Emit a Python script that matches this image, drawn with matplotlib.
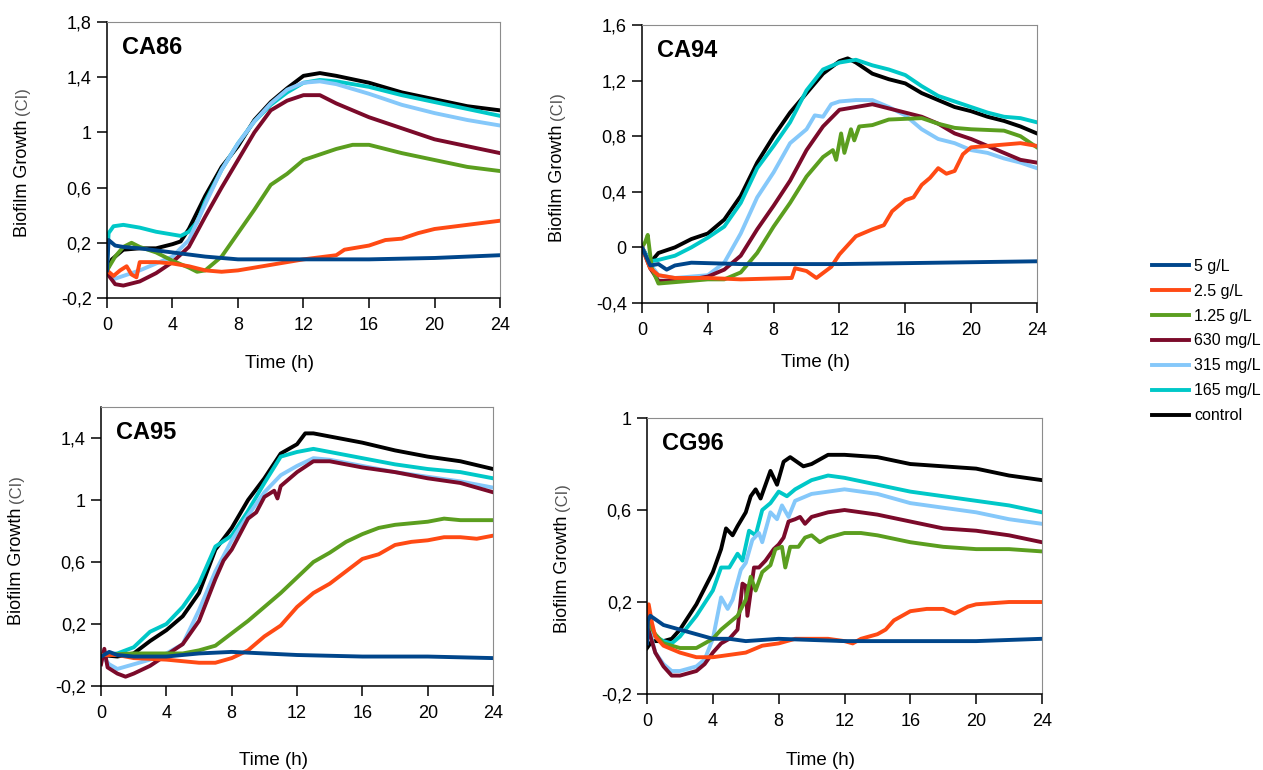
import matplotlib.pyplot as plt
from matplotlib.ticker import FuncFormatter

plt.rcParams['font.family'] = ['Liberation Sans', 'DejaVu Sans']

series_labels = ["5 g/L", "2.5 g/L", "1.25 g/L", "630 mg/L", "315 mg/L", "165 mg/L", "control"]
series_colors = ["#00468b", "#ff4a14", "#5b9e1f", "#7b0a2a", "#85c8fa", "#00c8c8", "#000000"]
x_ticks = [0, 4, 8, 12, 16, 20, 24]

# ---- CA86 ----
ca86_t_5g = [0, 0.1, 0.5, 1, 2, 4, 6, 8, 12, 16, 20, 24]
ca86_y_5g = [0.0, 0.22, 0.18, 0.17, 0.16, 0.13, 0.1, 0.08, 0.08, 0.08, 0.09, 0.11]
ca86_t_2g5 = [0, 0.4, 0.8, 1.2, 1.5, 1.8, 2, 3, 4, 5, 6, 7, 8, 9, 10, 12, 14, 14.5, 16, 17, 18, 19, 20, 22, 24]
ca86_y_2g5 = [0, -0.04, 0.0, 0.03, -0.03, -0.05, 0.06, 0.06, 0.05, 0.03, 0.0, -0.01, 0.0, 0.02, 0.04, 0.08, 0.11, 0.15, 0.18, 0.22, 0.23, 0.27, 0.3, 0.33, 0.36]
ca86_t_1g25 = [0, 0.5, 1, 1.5, 2, 3, 4, 5, 5.5, 6, 7, 8, 9, 10, 11, 12, 13, 14, 15, 16, 17, 18, 20, 22, 24]
ca86_y_1g25 = [0, 0.1, 0.17, 0.2, 0.17, 0.13, 0.07, 0.02, -0.01, 0.0, 0.1, 0.27, 0.44, 0.62, 0.7, 0.8, 0.84, 0.88, 0.91, 0.91, 0.88, 0.85, 0.8, 0.75, 0.72]
ca86_t_630 = [0, 0.5, 1, 2, 3, 4, 5, 6, 7, 8, 9, 10, 11, 12, 13, 14, 16, 18, 20, 22, 24]
ca86_y_630 = [-0.02, -0.1, -0.11, -0.08, -0.02, 0.06, 0.17, 0.39, 0.6, 0.8, 1.0, 1.16, 1.23, 1.27, 1.27, 1.21, 1.11, 1.03, 0.95, 0.9, 0.85]
ca86_t_315 = [0, 0.5, 1, 2, 3, 4, 5, 6, 7, 8, 9, 10, 11, 12, 13, 14, 16, 18, 20, 22, 24]
ca86_y_315 = [0, -0.06, -0.04, 0.0, 0.05, 0.1, 0.22, 0.48, 0.73, 0.92, 1.08, 1.21, 1.31, 1.36, 1.37, 1.35, 1.28, 1.2, 1.14, 1.09, 1.05]
ca86_t_165 = [0, 0.1, 0.4, 1, 2, 3, 4, 4.5, 5, 5.5, 6, 7, 8, 9, 10, 11, 12, 13, 14, 16, 18, 20, 22, 24]
ca86_y_165 = [0.05, 0.27, 0.32, 0.33, 0.31, 0.28, 0.26, 0.25, 0.28, 0.35, 0.5, 0.73, 0.92, 1.08, 1.2, 1.29, 1.36, 1.38, 1.37, 1.33, 1.27, 1.22, 1.17, 1.12]
ca86_t_ctrl = [0, 0.3, 1, 2, 3, 4, 4.5, 5, 6, 7, 8, 9, 10, 11, 12, 13, 14, 16, 18, 20, 22, 24]
ca86_y_ctrl = [0, 0.08, 0.15, 0.16, 0.16, 0.19, 0.21, 0.3, 0.54, 0.75, 0.9, 1.09, 1.22, 1.32, 1.41, 1.43, 1.41, 1.36, 1.29, 1.24, 1.19, 1.16]

# ---- CA94 ----
ca94_t_5g = [0, 0.5, 1, 1.5, 2, 3, 6, 12, 18, 24]
ca94_y_5g = [0, -0.13, -0.12, -0.16, -0.13, -0.11, -0.12, -0.12, -0.11, -0.1]
ca94_t_2g5 = [0, 0.5, 1, 2, 4, 6, 9.1, 9.3, 10, 10.6, 11.5, 12, 13, 14, 14.7, 15.2, 16, 16.5, 17, 17.5, 18, 18.5, 19, 19.5, 20, 21, 22, 23, 24]
ca94_y_2g5 = [0, -0.15, -0.2, -0.22, -0.22, -0.23, -0.22, -0.15, -0.17, -0.22, -0.14, -0.05, 0.08, 0.13, 0.16, 0.26, 0.34, 0.36, 0.45, 0.5, 0.57, 0.53, 0.55, 0.67, 0.72, 0.73, 0.74, 0.75, 0.73]
ca94_t_1g25 = [0, 0.2, 0.35, 0.6, 1, 2, 4, 5, 6, 7, 8, 9, 10, 11, 11.6, 11.8, 12.1, 12.3, 12.7, 12.9, 13.2, 14, 15, 17, 18, 19, 20, 22, 23, 24]
ca94_y_1g25 = [0, 0.04, 0.09, -0.15, -0.26, -0.25, -0.23, -0.23, -0.18, -0.04, 0.15, 0.32, 0.51, 0.65, 0.7, 0.63, 0.82, 0.68, 0.85, 0.77, 0.87, 0.88, 0.92, 0.93, 0.89, 0.86, 0.85, 0.84, 0.8, 0.72]
ca94_t_630 = [0, 0.5, 1, 2, 3, 4, 5, 6, 7, 8, 9, 10, 11, 12, 13, 14, 15, 16, 17, 18, 19, 20, 21, 22, 23, 24]
ca94_y_630 = [0, -0.15, -0.24, -0.24, -0.23, -0.21, -0.16, -0.06, 0.13, 0.3, 0.48, 0.7, 0.87, 0.99, 1.01, 1.03, 1.0, 0.97, 0.94, 0.89, 0.82, 0.78, 0.73, 0.68, 0.63, 0.61]
ca94_t_315 = [0, 0.5, 1, 2, 3, 4, 5, 6, 7, 8, 9, 10, 10.5, 11, 11.5, 12, 13, 14, 15, 16, 17, 18, 19, 20, 21, 22, 23, 24]
ca94_y_315 = [0, -0.12, -0.2, -0.22, -0.21, -0.2, -0.11, 0.1, 0.36, 0.54, 0.75, 0.85, 0.95, 0.94, 1.03, 1.05, 1.06, 1.06, 1.01, 0.95, 0.85, 0.78, 0.75, 0.7, 0.68, 0.64, 0.61, 0.57]
ca94_t_165 = [0, 0.5, 1, 2, 3, 4, 5, 6, 7, 8, 9, 10, 11, 12, 13, 14, 15, 16, 17, 18, 19, 20, 21, 22, 23, 24]
ca94_y_165 = [0, -0.1, -0.09, -0.06, 0.0, 0.07, 0.15, 0.32, 0.57, 0.73, 0.9, 1.13, 1.28, 1.33, 1.35, 1.31, 1.28, 1.24, 1.16, 1.09, 1.05, 1.01, 0.97, 0.94, 0.93, 0.9]
ca94_t_ctrl = [0, 0.5, 1, 2, 3, 4, 5, 6, 7, 8, 9, 10, 11, 12, 12.5, 13, 14, 15, 16, 17, 18, 19, 20, 21, 22, 23, 24]
ca94_y_ctrl = [0, -0.11, -0.04, 0.0, 0.06, 0.1, 0.2, 0.37, 0.61, 0.8, 0.97, 1.11, 1.25, 1.34, 1.36, 1.33, 1.25, 1.21, 1.18, 1.11, 1.06, 1.01, 0.98, 0.94, 0.91, 0.87, 0.82]

# ---- CA95 ----
ca95_t_5g = [0, 0.5, 1, 2, 4, 6, 8, 10, 12, 16, 20, 24]
ca95_y_5g = [-0.01, 0.02, 0.0, -0.01, -0.01, 0.01, 0.02, 0.01, 0.0, -0.01, -0.01, -0.02]
ca95_t_2g5 = [0, 1, 2, 4, 5, 6, 7, 8, 9, 10, 11, 12, 13, 14, 15, 16, 17, 18, 19, 20, 21, 22, 23, 24]
ca95_y_2g5 = [0, 0.0, -0.02, -0.03, -0.04, -0.05, -0.05, -0.02, 0.03, 0.12, 0.19, 0.31, 0.4, 0.46, 0.54, 0.62, 0.65, 0.71, 0.73, 0.74, 0.76, 0.76, 0.75, 0.77]
ca95_t_1g25 = [0, 2, 4, 5, 6, 7, 8, 9, 10, 11, 12, 13, 14, 15, 16, 17, 18, 19, 20, 21, 22, 24]
ca95_y_1g25 = [0, 0.01, 0.01, 0.01, 0.03, 0.06, 0.14, 0.22, 0.31, 0.4, 0.5, 0.6, 0.66, 0.73, 0.78, 0.82, 0.84, 0.85, 0.86, 0.88, 0.87, 0.87]
ca95_t_630 = [0, 0.2, 0.4, 1, 1.5, 2, 3, 4, 5, 6, 7, 7.5, 8, 8.5, 9, 9.5, 10, 10.6, 10.8, 11, 12, 13, 14, 16, 18, 20, 22, 24]
ca95_y_630 = [-0.06, 0.04, -0.08, -0.12, -0.14, -0.12, -0.07, 0.0, 0.07, 0.22, 0.49, 0.61, 0.68, 0.78, 0.88, 0.92, 1.02, 1.06, 1.01, 1.09, 1.18, 1.25, 1.25, 1.21, 1.18, 1.14, 1.11, 1.05]
ca95_t_315 = [0, 0.5, 1, 2, 3, 4, 5, 6, 7, 8, 9, 10, 11, 12, 13, 14, 16, 18, 20, 22, 24]
ca95_y_315 = [0, -0.06, -0.09, -0.06, -0.03, 0.01, 0.07, 0.29, 0.54, 0.74, 0.9, 1.05, 1.16, 1.22, 1.27, 1.26, 1.22, 1.18, 1.15, 1.12, 1.08]
ca95_t_165 = [0, 1, 2, 3, 4, 5, 6, 7, 8, 9, 10, 11, 12, 13, 14, 16, 18, 20, 22, 24]
ca95_y_165 = [0, 0.01, 0.05, 0.15, 0.2, 0.31, 0.46, 0.7, 0.77, 0.93, 1.11, 1.28, 1.31, 1.33, 1.31, 1.27, 1.23, 1.2, 1.18, 1.14]
ca95_t_ctrl = [0, 1, 2, 3, 4, 5, 6, 7, 8, 9, 10, 11, 12, 12.5, 13, 14, 16, 18, 20, 22, 24]
ca95_y_ctrl = [0, -0.01, 0.01, 0.09, 0.16, 0.25, 0.4, 0.68, 0.82, 1.0, 1.14, 1.3, 1.36, 1.43, 1.43, 1.41, 1.37, 1.32, 1.28, 1.25, 1.2]

# ---- CG96 ----
cg96_t_5g = [0, 0.05, 0.2, 1, 2, 3, 4, 5, 6, 8, 12, 16, 20, 24]
cg96_y_5g = [0.02, 0.12, 0.14, 0.1, 0.08, 0.06, 0.04, 0.04, 0.03, 0.04, 0.03, 0.03, 0.03, 0.04]
cg96_t_2g5 = [0, 0.1, 0.3, 0.5, 1, 2, 3, 4, 5, 6, 7, 8, 9, 10, 11, 12, 12.5, 13, 14, 14.5, 15, 16, 17, 18, 18.7, 19.5, 20, 22, 24]
cg96_y_2g5 = [0.05, 0.19, 0.11, 0.05, 0.01, -0.02, -0.04, -0.04, -0.03, -0.02, 0.01, 0.02, 0.04, 0.04, 0.04, 0.03, 0.02, 0.04, 0.06, 0.08, 0.12, 0.16, 0.17, 0.17, 0.15, 0.18, 0.19, 0.2, 0.2]
cg96_t_1g25 = [0, 0.5, 1, 2, 3, 4, 4.5, 5, 5.5, 6, 6.3, 6.6, 7, 7.5, 7.8, 8.2, 8.4, 8.7, 9.2, 9.6, 10, 10.5, 11, 12, 13, 14, 16, 18, 20, 22, 24]
cg96_y_1g25 = [0.12, 0.06, 0.02, 0.0, 0.0, 0.04, 0.08, 0.11, 0.14, 0.21, 0.31, 0.25, 0.33, 0.36, 0.43, 0.44, 0.35, 0.44, 0.44, 0.48, 0.49, 0.46, 0.48, 0.5, 0.5, 0.49, 0.46, 0.44, 0.43, 0.43, 0.42]
cg96_t_630 = [0, 0.5, 1, 1.5, 2, 3, 3.5, 4, 4.5, 5, 5.5, 5.8, 6, 6.1, 6.5, 6.8, 7.2, 7.7, 8, 8.3, 8.6, 9, 9.3, 9.6, 10, 11, 12, 13, 14, 16, 18, 20, 22, 24]
cg96_y_630 = [0.1, -0.02, -0.08, -0.12, -0.12, -0.1, -0.07, -0.02, 0.02, 0.04, 0.08, 0.28, 0.27, 0.14, 0.35, 0.35, 0.38, 0.43, 0.45, 0.48, 0.55, 0.56, 0.57, 0.54, 0.57, 0.59, 0.6, 0.59, 0.58, 0.55, 0.52, 0.51, 0.49, 0.46]
cg96_t_315 = [0, 0.5, 1, 1.5, 2, 3, 3.5, 4, 4.5, 4.9, 5.2, 5.7, 6, 6.4, 6.8, 7, 7.5, 7.9, 8.2, 8.6, 9, 10, 11, 12, 13, 14, 16, 18, 20, 22, 24]
cg96_y_315 = [0.12, -0.02, -0.07, -0.1, -0.1, -0.08, -0.05, 0.04, 0.22, 0.17, 0.21, 0.34, 0.37, 0.47, 0.5, 0.46, 0.59, 0.56, 0.62, 0.57, 0.64, 0.67, 0.68, 0.69, 0.68, 0.67, 0.63, 0.61, 0.59, 0.56, 0.54]
cg96_t_165 = [0, 0.5, 1, 1.5, 2, 3, 4, 4.5, 5, 5.5, 5.8, 6.2, 6.6, 7, 7.5, 8, 8.5, 9, 10, 11, 12, 14, 16, 18, 20, 22, 24]
cg96_y_165 = [0.12, 0.05, 0.03, 0.02, 0.05, 0.14, 0.25, 0.35, 0.35, 0.41, 0.38, 0.51, 0.49, 0.6, 0.63, 0.68, 0.66, 0.69, 0.73, 0.75, 0.74, 0.71, 0.68, 0.66, 0.64, 0.62, 0.59]
cg96_t_ctrl = [0, 0.3, 1, 1.5, 2, 3, 4, 4.5, 4.8, 5.2, 5.5, 6, 6.3, 6.6, 6.9, 7.5, 7.9, 8.3, 8.7, 9.5, 10, 11, 12, 14, 16, 18, 20, 22, 24]
cg96_y_ctrl = [0.0, 0.03, 0.03, 0.04, 0.08, 0.19, 0.33, 0.43, 0.52, 0.49, 0.53, 0.59, 0.66, 0.69, 0.65, 0.77, 0.71, 0.81, 0.83, 0.79, 0.8, 0.84, 0.84, 0.83, 0.8, 0.79, 0.78, 0.75, 0.73]

panel_names = ["CA86", "CA94", "CA95", "CG96"]
panel_yticks = [[-0.2, 0.2, 0.6, 1.0, 1.4, 1.8],
                [-0.4, 0, 0.4, 0.8, 1.2, 1.6],
                [-0.2, 0.2, 0.6, 1.0, 1.4],
                [-0.2, 0.2, 0.6, 1.0]]
panel_ylim = [(-0.2, 1.8), (-0.4, 1.6), (-0.2, 1.6), (-0.2, 1.0)]

panel_data = [
    [(ca86_t_5g, ca86_y_5g), (ca86_t_2g5, ca86_y_2g5), (ca86_t_1g25, ca86_y_1g25), (ca86_t_630, ca86_y_630),
     (ca86_t_315, ca86_y_315), (ca86_t_165, ca86_y_165), (ca86_t_ctrl, ca86_y_ctrl)],
    [(ca94_t_5g, ca94_y_5g), (ca94_t_2g5, ca94_y_2g5), (ca94_t_1g25, ca94_y_1g25), (ca94_t_630, ca94_y_630),
     (ca94_t_315, ca94_y_315), (ca94_t_165, ca94_y_165), (ca94_t_ctrl, ca94_y_ctrl)],
    [(ca95_t_5g, ca95_y_5g), (ca95_t_2g5, ca95_y_2g5), (ca95_t_1g25, ca95_y_1g25), (ca95_t_630, ca95_y_630),
     (ca95_t_315, ca95_y_315), (ca95_t_165, ca95_y_165), (ca95_t_ctrl, ca95_y_ctrl)],
    [(cg96_t_5g, cg96_y_5g), (cg96_t_2g5, cg96_y_2g5), (cg96_t_1g25, cg96_y_1g25), (cg96_t_630, cg96_y_630),
     (cg96_t_315, cg96_y_315), (cg96_t_165, cg96_y_165), (cg96_t_ctrl, cg96_y_ctrl)],
]

# axes boxes in figure fractions (left, bottom, width, height)
boxes = [(0.0847, 0.613, 0.3112, 0.3584),
         (0.5083, 0.6065, 0.3127, 0.361),
         (0.0800, 0.1091, 0.3104, 0.3623),
         (0.5123, 0.0987, 0.3127, 0.3584)]
xlabel_y = [-0.205, -0.185, -0.235, -0.21]


def comma(v, pos):
    v = round(v, 2)
    if v == 0:
        return "0"
    return f"{v:g}".replace('.', ',')


fig = plt.figure(figsize=(12.63, 7.70), dpi=100)
lines = []
for i in range(4):
    ax = fig.add_axes(boxes[i])
    # draw control first so the low-dose lines sit on top
    for k in reversed(range(7)):
        t, y = panel_data[i][k]
        ln, = ax.plot(t, y, color=series_colors[k], lw=2.8, label=series_labels[k],
                      solid_joinstyle='round')
        if i == 0:
            lines.append(ln)
    ax.set_xlim(0, 24)
    ax.set_ylim(*panel_ylim[i])
    ax.set_xticks(x_ticks)
    ax.set_yticks(panel_yticks[i])
    ax.yaxis.set_major_formatter(FuncFormatter(comma))
    for s in ['top', 'right']:
        ax.spines[s].set_color('#8c8c8c')
        ax.spines[s].set_linewidth(0.8)
    for s in ['left', 'bottom']:
        ax.spines[s].set_linewidth(1.1)
    ax.tick_params(direction='out', length=7, width=1.1, labelsize=13)
    ax.tick_params(axis='x', pad=7)
    ax.tick_params(axis='y', pad=4)

    ax.annotate(panel_names[i], xy=(0, 1), xycoords='axes fraction', xytext=(10.5, -18),
                textcoords='offset points', fontsize=17, fontweight='bold', va='center')

    ax.set_xlabel('Time (h)', fontsize=13.5)
    ax.xaxis.set_label_coords(0.44, xlabel_y[i])

    lab = ax.annotate('Biofilm Growth', xy=(0, 0), xycoords='axes fraction', xytext=(-61, 44),
                      textcoords='offset points', rotation=90, ha='center', va='bottom', fontsize=13)
    ax.annotate('(CI)', xy=(0.5, 1), xycoords=lab, xytext=(0, 3), textcoords='offset points',
                rotation=90, ha='center', va='bottom', fontsize=12, color='#555555')

fig.legend(lines[::-1], series_labels, loc='upper left', bbox_to_anchor=(0.912, 0.664),
           frameon=False, fontsize=11.5, handlelength=2.3, handletextpad=0.35,
           labelspacing=0.62, borderaxespad=0, borderpad=0)

fig.savefig('out.png', dpi=100)
